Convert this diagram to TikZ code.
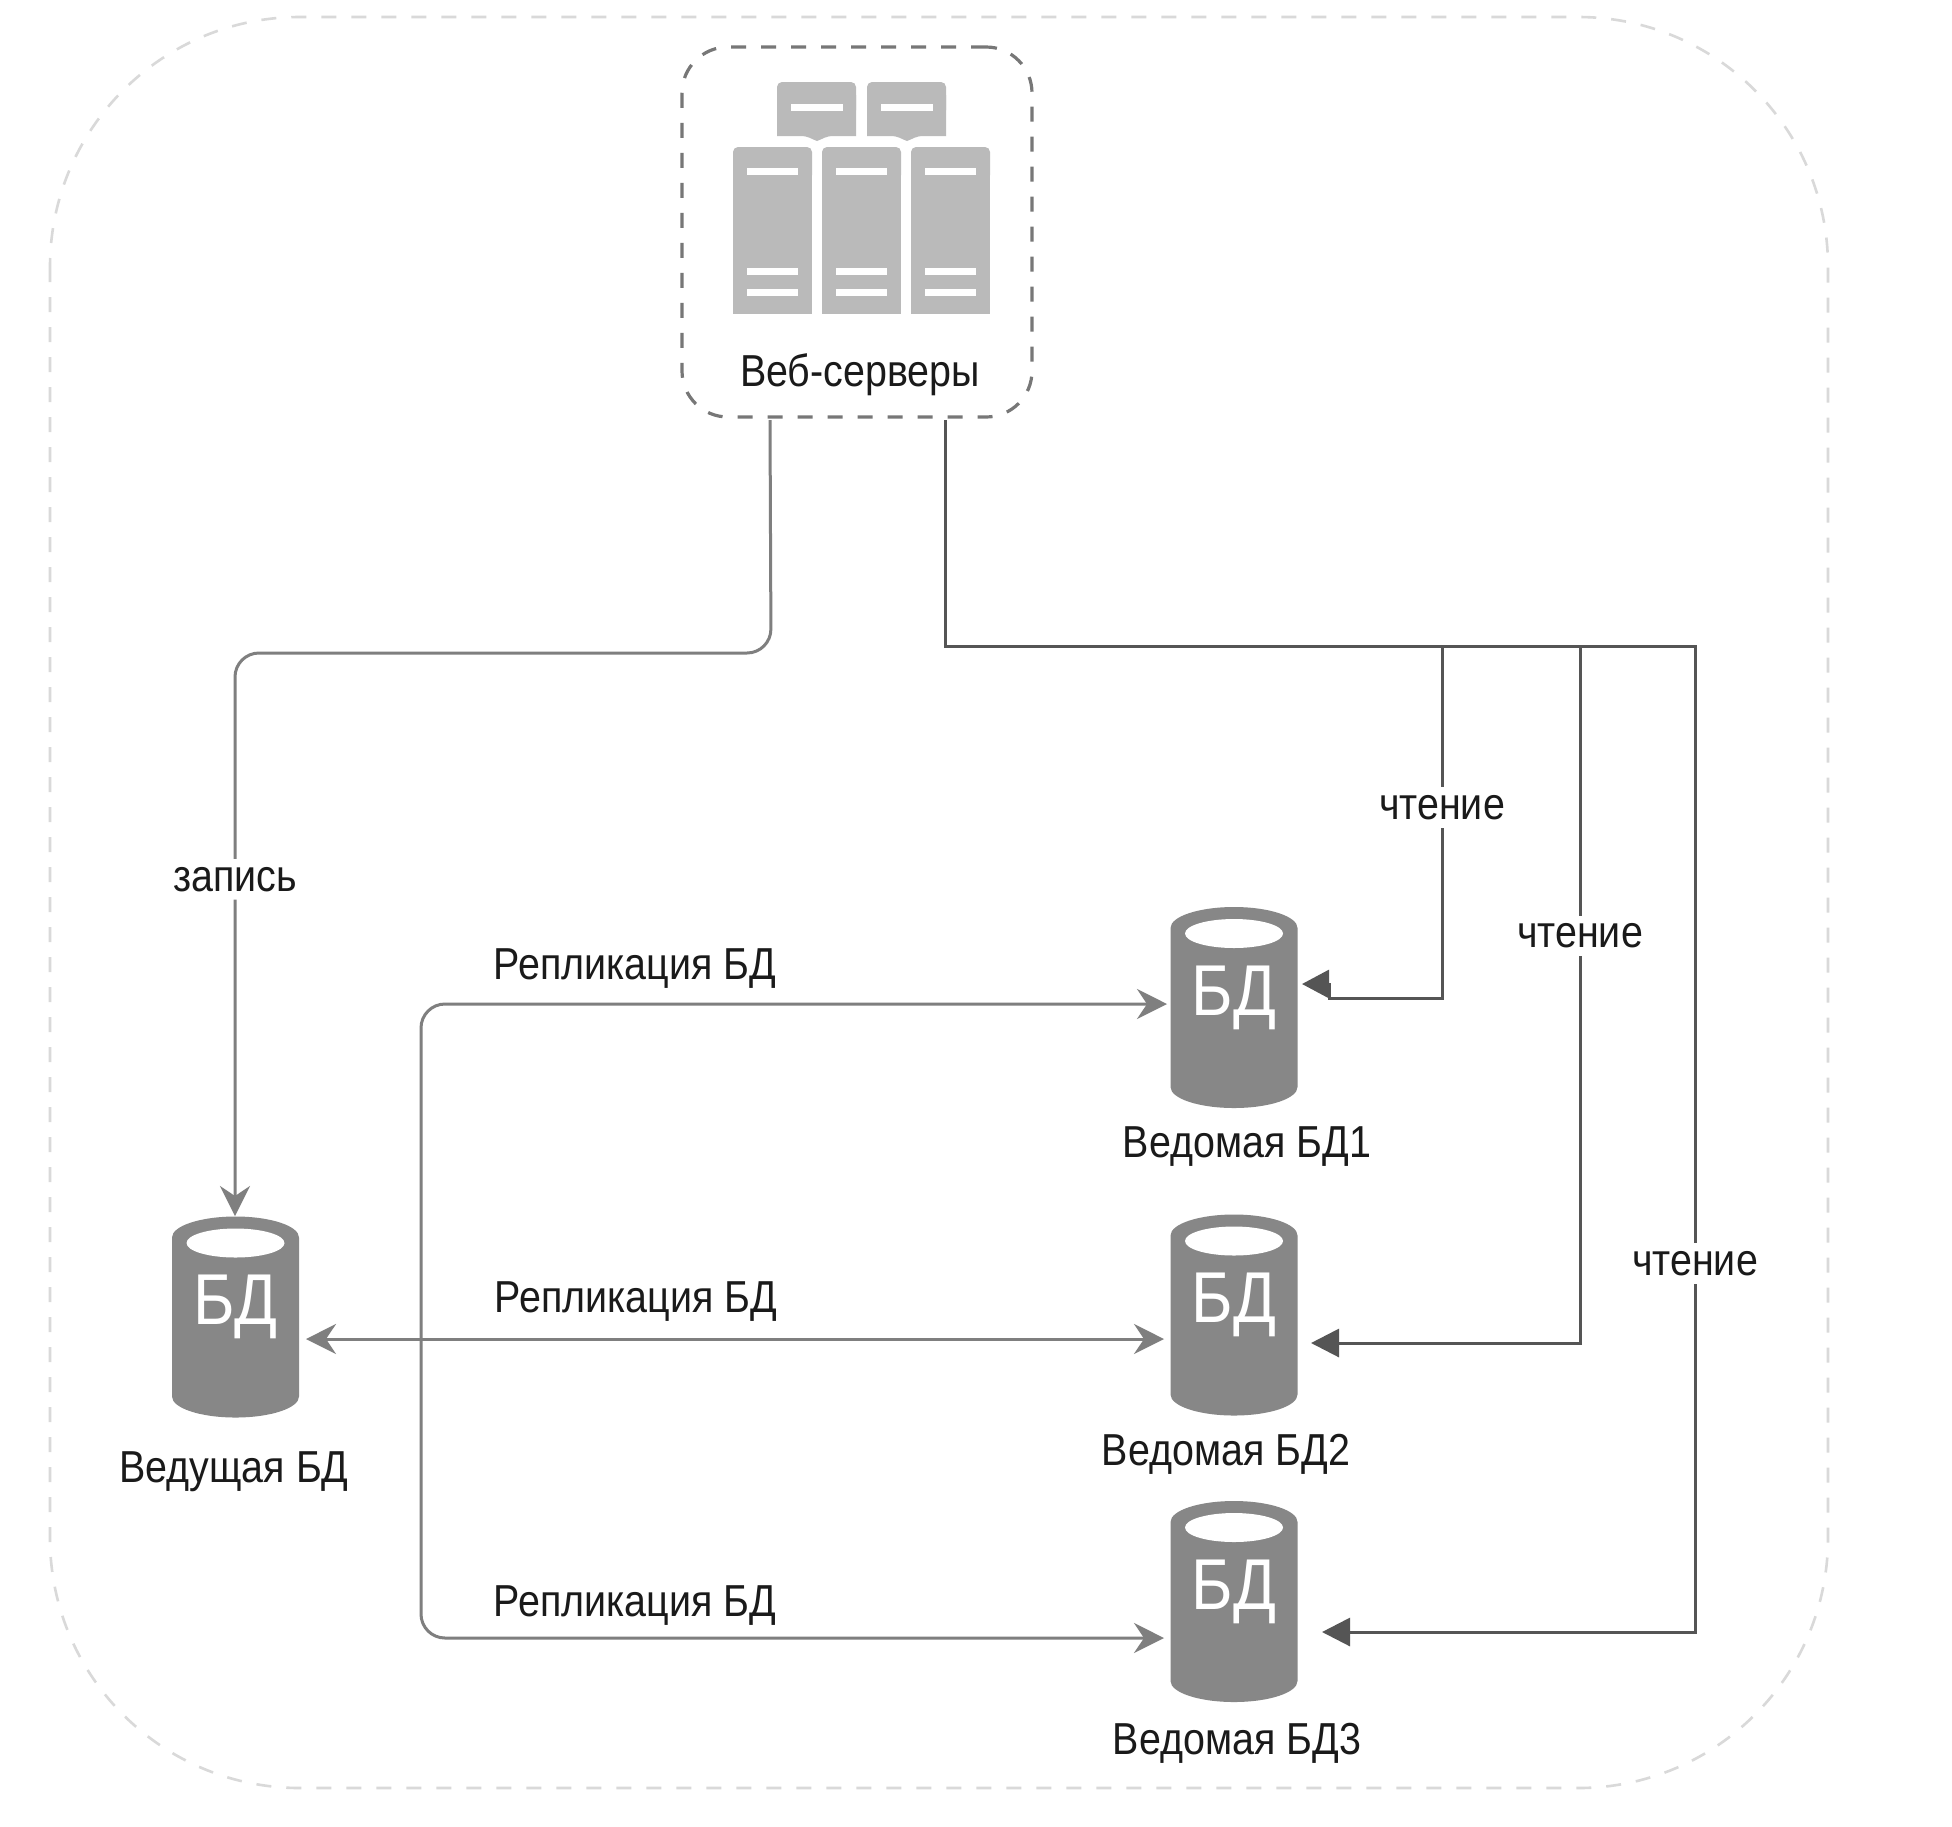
\documentclass[tikz,border=0pt]{standalone}
\usepackage{fontspec}
\setmainfont[FakeStretch=0.88]{Liberation Sans}
\usetikzlibrary{arrows.meta}
\definecolor{framegray}{HTML}{D9D9D9}
\definecolor{boxgray}{HTML}{777777}
\definecolor{servergray}{HTML}{BABABA}
\definecolor{dbgray}{HTML}{878787}
\definecolor{replgray}{HTML}{7F7F7F}
\definecolor{readgray}{HTML}{555555}
\definecolor{textblack}{HTML}{1A1A1A}
\tikzset{
  frame/.style={draw=framegray, line width=1.3pt, dash pattern=on 7.5pt off 7.5pt, rounded corners=125pt},
  webbox/.style={draw=boxgray, line width=1.6pt, dash pattern=on 7.5pt off 7.5pt, rounded corners=23pt,
    minimum width=175pt, minimum height=185pt, inner sep=0pt},
  dbbody/.style={inner sep=0pt, outer sep=0pt, minimum width=63.5pt, minimum height=100.5pt},
  dbtext/.style={text=white, font=\fontsize{36}{40}\selectfont, inner sep=0pt},
  caption/.style={text=textblack, font=\fontsize{22.4}{26}\selectfont, inner sep=0pt},
  onlabel/.style={caption, fill=white, inner xsep=4pt, inner ysep=4pt},
  replline/.style={draw=replgray, line width=1.5pt, rounded corners=12pt},
  readline/.style={draw=readgray, line width=1.5pt},
  repltip/.style={-{Stealth[length=15pt, width=15pt, inset=5pt]}},
  readtip/.style={-{Triangle[length=14pt, width=14pt]}}
}
\newcommand{\dbicon}[3]{%
  \node[dbbody] (#1) at (#2,#3) {};
  \fill[dbgray] ([yshift=-10.5pt]#1.north west) arc [start angle=180, end angle=0, x radius=31.75pt, y radius=10.5pt]
    -- ([yshift=10.5pt]#1.south east) arc [start angle=0, end angle=-180, x radius=31.75pt, y radius=10.5pt] -- cycle;
  \fill[white] ([yshift=37pt]#1.center) ellipse [x radius=24.5pt, y radius=7.25pt];
  \node[dbtext] (#1text) at ([yshift=5pt]#1.center) {БД};
}
\begin{document}
\begin{tikzpicture}[x=0.5pt, y=-0.5pt]
  \useasboundingbox[fill=white] (0,0) rectangle (1952,1826);
  \path[frame] (50,17) rectangle (1828,1788);

  % web servers
  \node[webbox] (web) at (857,232) {};
  \foreach \sx in {777,867} {
    \fill[servergray, rounded corners=2.5pt] (\sx,82) rectangle (\sx+79,115);
    \fill[servergray] (\sx,95) -- (\sx+79,95) -- (\sx+79,136) -- (\sx+57,136) .. controls (\sx+48,136) and (\sx+46,139) .. (\sx+40,141) .. controls (\sx+34,139) and (\sx+32,136) .. (\sx+23,136) -- (\sx,136) -- cycle;
    \fill[white] (\sx+14,104) rectangle (\sx+66,111);
  }
  \foreach \sx in {733,822,911} {
    \fill[servergray, rounded corners=2.5pt] (\sx,147) rectangle (\sx+79,180);
    \fill[servergray] (\sx,160) rectangle (\sx+79,314);
    \foreach \sy in {168,268,289}
      \fill[white] (\sx+14,\sy) rectangle (\sx+65,\sy+7);
  }
  \node[caption] (webname) at (860,375) {Веб-серверы};

  % databases
  \dbicon{master}{235.5}{1317}
  \dbicon{slaveone}{1234}{1007.5}
  \dbicon{slavetwo}{1234}{1315}
  \dbicon{slavethree}{1234}{1601.5}
  \node[caption] (mastername) at (234,1472) {Ведущая БД};
  \node[caption] (slaveonename) at (1247,1147) {Ведомая БД1};
  \node[caption] (slavetwoname) at (1226,1454) {Ведомая БД2};
  \node[caption] (slavethreename) at (1237,1743) {Ведомая БД3};

  \coordinate (writeout) at (770,420);
  \coordinate (readout) at (945,420);
  \coordinate (masterin) at (235,1216);
  \coordinate (masterside) at (306,1339);
  \coordinate (replfork) at (421,1339);
  \coordinate (replone) at (1167,1004);
  \coordinate (repltwo) at (1164,1339);
  \coordinate (replthree) at (1164,1638);

  % write
  \draw[replline, repltip] (writeout) -- (771,653) -- (235,653) -- node[onlabel, pos=.402] (writelabel) {запись} (masterin);

  % replication
  \draw[replline, {Stealth[length=15pt, width=15pt, inset=5pt]}-{Stealth[length=15pt, width=15pt, inset=5pt]}] (masterside) -- (repltwo);
  \draw[replline, repltip] (replfork) -- (421,1004) -- (replone);
  \draw[replline, repltip] (replfork) -- (421,1638) -- (replthree);
  \node[caption] (replonelabel) at (635,969) {Репликация БД};
  \node[caption] (repltwolabel) at (636,1302) {Репликация БД};
  \node[caption] (replthreelabel) at (635,1606) {Репликация БД};

  % read
  \coordinate (readbend) at (945,646);
  \coordinate (forkone) at (1442,646);
  \coordinate (forktwo) at (1580,646);
  \draw[readline, readtip] (readout) -- (readbend) -- (1695,646) -- node[onlabel, pos=.626] (readthreelabel) {чтение} (1695,1632) -- (1322,1632);
  \draw[readline, -{Triangle[length=13.5pt, width=14pt]}] (forkone) -- node[onlabel, pos=.458] (readonelabel) {чтение} (1442,998) -- (1329,998) -- (1329,984) -- (1302,984);
  \draw[readline, readtip] (forktwo) -- node[onlabel, pos=.416] (readtwolabel) {чтение} (1580,1343) -- (1311,1343);
\end{tikzpicture}
\end{document}
